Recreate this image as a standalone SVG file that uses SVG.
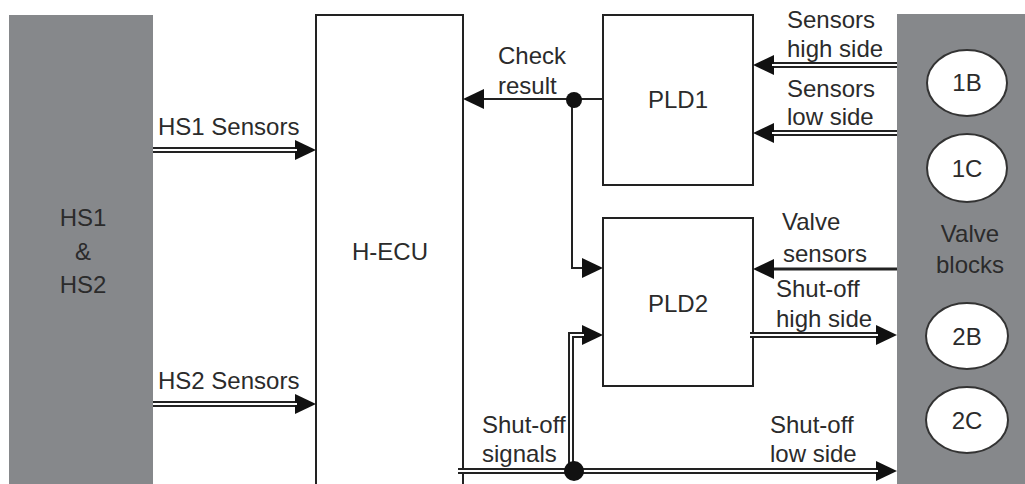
<svg xmlns="http://www.w3.org/2000/svg" width="1025" height="484" viewBox="0 0 1025 484">
<defs>
<style>
text{font-family:"Liberation Sans",Arial,sans-serif;font-size:24px;fill:#2b2b2b}
.c{text-anchor:middle}
.box{fill:#fff;stroke:#222;stroke-width:2}
.gray{fill:#86888b}
.ell{fill:#fff;stroke:#333;stroke-width:2}
.sgl{fill:none;stroke:#222;stroke-width:2}
.thk{fill:none;stroke:#222;stroke-width:3}
.dbl{fill:none;stroke:#222;stroke-width:6}
.dbi{fill:none;stroke:#fff;stroke-width:2}
.dot{fill:#111}
</style>
<marker id="ah" markerUnits="userSpaceOnUse" markerWidth="22" markerHeight="22" refX="11" refY="10" orient="auto" viewBox="0 0 22 20">
<path d="M0,0 L21,10 L0,20 z" fill="#111"/>
</marker>
</defs>

<g id="hs">
<rect class="gray" x="9" y="15" width="144" height="470"/>
<text class="c" x="83" y="226">HS1</text>
<text class="c" x="83" y="260">&amp;</text>
<text class="c" x="83" y="293">HS2</text>
</g>

<g id="hecu">
<rect class="box" x="316" y="15" width="147" height="480"/>
<text class="c" x="390" y="260">H-ECU</text>
</g>

<g id="pld1">
<rect class="box" x="603" y="15" width="150" height="170"/>
<text class="c" x="678" y="108">PLD1</text>
</g>

<g id="pld2">
<rect class="box" x="603" y="218" width="150" height="168"/>
<text class="c" x="678" y="312">PLD2</text>
</g>

<g id="valveblocks">
<rect class="gray" x="897" y="14" width="128" height="471"/>
<text class="c" x="970" y="242">Valve</text>
<text class="c" x="970" y="273">blocks</text>
</g>
<g id="v1B"><ellipse class="ell" cx="967" cy="83" rx="40" ry="33"/><text class="c" x="967" y="91">1B</text></g>
<g id="v1C"><ellipse class="ell" cx="967" cy="168" rx="40" ry="34"/><text class="c" x="967" y="177">1C</text></g>
<g id="v2B"><ellipse class="ell" cx="967" cy="336" rx="41" ry="33"/><text class="c" x="967" y="345">2B</text></g>
<g id="v2C"><ellipse class="ell" cx="967" cy="420" rx="41" ry="33"/><text class="c" x="967" y="429">2C</text></g>

<g id="connectors">
<!-- HS1 / HS2 sensors -->
<path class="dbl" d="M153,150 H306" marker-end="url(#ah)"/>
<path class="dbi" d="M153,150 H297"/>
<path class="dbl" d="M153,404 H306" marker-end="url(#ah)"/>
<path class="dbi" d="M153,404 H297"/>
<!-- Check result -->
<path class="sgl" d="M603,99 H473" marker-end="url(#ah)"/>
<path class="sgl" d="M572,99 V268 H593" marker-end="url(#ah)"/>
<circle class="dot" cx="574" cy="100" r="8"/>
<!-- Sensors from valve blocks -->
<path class="dbl" d="M897,65 H763" marker-end="url(#ah)"/>
<path class="dbi" d="M897,65 H772"/>
<path class="dbl" d="M897,133 H763" marker-end="url(#ah)"/>
<path class="dbi" d="M897,133 H772"/>
<path class="thk" d="M897,269 H763" marker-end="url(#ah)"/>
<!-- Shut-off high side -->
<path class="dbl" d="M750,335 H887" marker-end="url(#ah)"/>
<path class="dbi" d="M750,335 H878"/>
<!-- Shut-off signals / low side -->
<path class="dbl" d="M458,471 H887" marker-end="url(#ah)"/>
<path class="dbi" d="M458,471 H878"/>
<path class="dbl" d="M571,471 V335 H593" marker-end="url(#ah)"/>
<path class="dbi" d="M571,468 V335 H584"/>
<circle class="dot" cx="574" cy="471" r="10"/>
</g>

<g id="labels">
<text x="158" y="135">HS1 Sensors</text>
<text x="158" y="389">HS2 Sensors</text>
<text x="498" y="64">Check</text>
<text x="498" y="94">result</text>
<text x="787" y="28">Sensors</text>
<text x="787" y="57">high side</text>
<text x="787" y="97">Sensors</text>
<text x="787" y="125">low side</text>
<text x="782" y="230">Valve</text>
<text x="783" y="262">sensors</text>
<text x="776" y="297">Shut-off</text>
<text x="776" y="327">high side</text>
<text x="770" y="433">Shut-off</text>
<text x="770" y="462">low side</text>
<text x="482" y="433">Shut-off</text>
<text x="482" y="462">signals</text>
</g>
</svg>
